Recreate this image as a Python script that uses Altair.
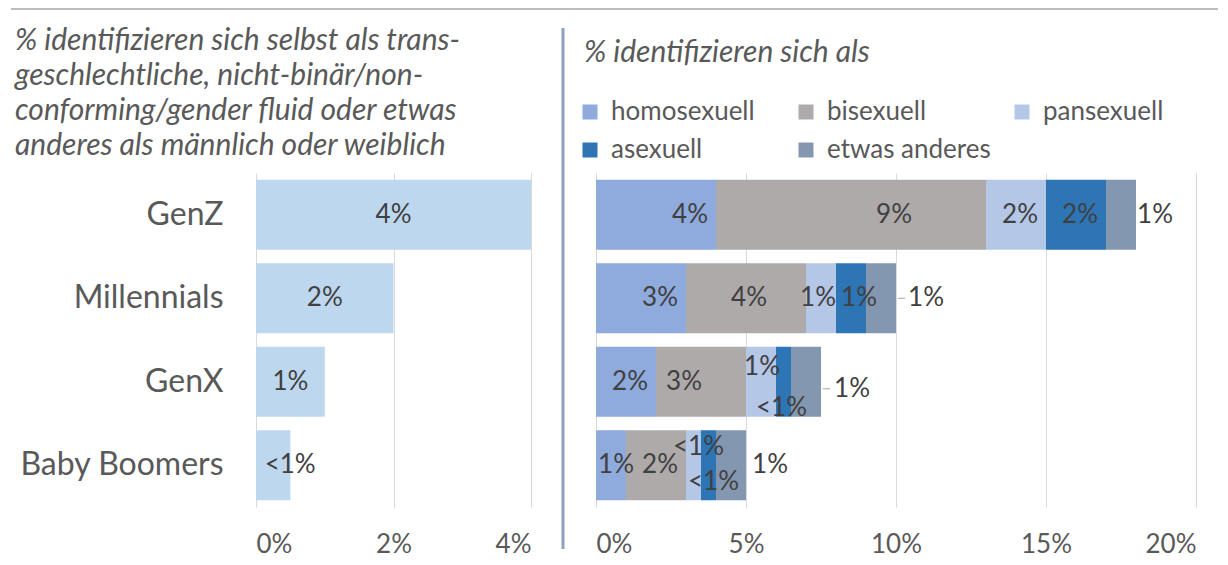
import altair as alt
import pandas as pd

FONT = "Lato"

# ---------------- data ----------------
generations = ["GenZ", "Millennials", "GenX", "Baby Boomers"]
trans_values = [4, 2, 1, 0.5]

categories = ["homosexuell", "bisexuell", "pansexuell", "asexuell", "etwas anderes"]
homosexuell = [4, 3, 2, 1]
bisexuell = [9, 4, 3, 2]
pansexuell = [2, 1, 1, 0.5]
asexuell = [2, 1, 0.5, 0.5]
etwas_anderes = [1, 1, 1, 1]

left_ticks = [0, 2, 4]
right_ticks = [0, 5, 10, 15, 20]

left_title = [
    "% identifizieren sich selbst als trans-",
    "geschlechtliche, nicht-binär/non-",
    "conforming/gender fluid oder etwas",
    "anderes als männlich oder weiblich",
]
right_title = "% identifizieren sich als"

# ---------------- style ----------------
trans_color = "#BDD7EE"
cat_colors = ["#8FAADC", "#AEAAAA", "#B4C7E7", "#2E75B6", "#8497B0"]
TEXT = "#595959"
LABEL = "#404040"
GRID = "#D9D9D9"

LEFT_W, LEFT_MAX = 275, 4
RIGHT_W, RIGHT_MAX = 600, 20
PLOT_H = 334
PAD_IN, PAD_OUT = 0.16, 0.08
STEP = PLOT_H / (len(generations) - PAD_IN + 2 * PAD_OUT)
HALF_BAND = STEP * (1 - PAD_IN) / 2

# pixel nudges of data labels (dx, dy) relative to the segment centre
left_nudge = {"Baby Boomers": (17, 0)}
right_nudge = {
    ("GenZ", "homosexuell"): (34, 0), ("GenZ", "bisexuell"): (43, 0),
    ("GenZ", "pansexuell"): (4, 0), ("GenZ", "asexuell"): (4, 0),
    ("GenZ", "etwas anderes"): (34, 0),
    ("Millennials", "homosexuell"): (19, 0), ("Millennials", "bisexuell"): (3, 0),
    ("Millennials", "pansexuell"): (-3, 0), ("Millennials", "asexuell"): (8, 0),
    ("Millennials", "etwas anderes"): (45, 0),
    ("GenX", "homosexuell"): (4, 0), ("GenX", "bisexuell"): (-17, 0),
    ("GenX", "pansexuell"): (1, -15), ("GenX", "asexuell"): (-2, 26),
    ("GenX", "etwas anderes"): (46, 7),
    ("Baby Boomers", "homosexuell"): (5, 0), ("Baby Boomers", "bisexuell"): (4, 0),
    ("Baby Boomers", "pansexuell"): (5, -18), ("Baby Boomers", "asexuell"): (5, 17),
    ("Baby Boomers", "etwas anderes"): (39, 0),
}
leader_dy = {"Millennials": 0, "GenX": 7}


def pct_label(v):
    return "<1%" if v < 1 else f"{v:g}%"


# ---------------- tables ----------------
lpx = LEFT_W / LEFT_MAX
left_df = pd.DataFrame({
    "gen": generations,
    "value": trans_values,
    "lx": [v / 2 + left_nudge.get(g, (0, 0))[0] / lpx for g, v in zip(generations, trans_values)],
    "label": [pct_label(v) for v in trans_values],
})

rpx = RIGHT_W / RIGHT_MAX
series = [homosexuell, bisexuell, pansexuell, asexuell, etwas_anderes]
rows = []
for gi, g in enumerate(generations):
    cum = 0
    for ci, c in enumerate(categories):
        v = series[ci][gi]
        dx, dy = right_nudge.get((g, c), (0, 0))
        rows.append({"gen": g, "cat": c, "value": v, "start": cum, "end": cum + v,
                     "lx": cum + v / 2 + dx / rpx, "label": pct_label(v),
                     "dy": dy + HALF_BAND})
        cum += v
right_df = pd.DataFrame(rows)

totals = right_df.groupby("gen")["end"].max()
leader_df = pd.DataFrame({
    "gen": list(leader_dy.keys()),
    "x1": [totals[g] + 0.06 for g in leader_dy],
    "x2": [totals[g] + 0.3 for g in leader_dy],
    "dy": [d + HALF_BAND for d in leader_dy.values()],
})

y_scale = alt.Scale(paddingInner=PAD_IN, paddingOuter=PAD_OUT)

# ---------------- left panel ----------------
y_left = alt.Y("gen:N", sort=generations, scale=y_scale,
               axis=alt.Axis(title=None, labelFontSize=32, labelColor=TEXT, labelFont=FONT,
                             labelPadding=33, labelLimit=400, domain=False, ticks=False))
x_left = alt.X("value:Q", scale=alt.Scale(domain=[0, LEFT_MAX], nice=False),
               axis=alt.Axis(values=left_ticks, labelExpr="datum.value + '%'", title=None,
                             grid=True, gridColor=GRID, domain=False, ticks=False,
                             labelFontSize=26, labelColor=TEXT, labelFont=FONT, labelPadding=24))

bars_l = alt.Chart(left_df).mark_bar(color=trans_color).encode(y=y_left, x=x_left)
text_l = alt.Chart(left_df).mark_text(fontSize=26, color=LABEL, font=FONT).encode(
    y=alt.Y("gen:N", sort=generations),
    x=alt.X("lx:Q"),
    text="label:N",
)
top_rule = alt.Chart(pd.DataFrame({"k": [0]})).mark_rule(color="#A6A6A6", strokeWidth=1.5).encode(
    x=alt.value(-245), x2=alt.value(962), y=alt.value(-164)
)

left = alt.layer(bars_l, text_l, top_rule).properties(
    width=LEFT_W, height=PLOT_H,
    title=alt.TitleParams(text=left_title, anchor="start", frame="group", dx=-241,
                          fontSize=30, font=FONT, fontStyle="italic", fontWeight="normal",
                          color=TEXT, lineHeight=35, offset=-153),
)

# ---------------- right panel ----------------
y_right = alt.Y("gen:N", sort=generations, scale=y_scale, axis=None)
x_right = alt.X("start:Q", scale=alt.Scale(domain=[0, RIGHT_MAX], nice=False),
                axis=alt.Axis(values=right_ticks, labelExpr="datum.value + '%'", title=None,
                              grid=True, gridColor=GRID, domain=False, ticks=False,
                              labelFontSize=26, labelColor=TEXT, labelFont=FONT, labelPadding=24))

bars_r = alt.Chart(right_df).mark_bar().encode(
    y=y_right,
    x=x_right,
    x2="end:Q",
    color=alt.Color("cat:N", sort=categories,
                    scale=alt.Scale(domain=categories, range=cat_colors),
                    legend=alt.Legend(title=None, orient="none", legendX=-19, legendY=-74,
                                      direction="horizontal", columns=3, gridAlign="all",
                                      columnPadding=18, rowPadding=12, labelFontSize=26,
                                      labelColor=TEXT, labelFont=FONT, labelLimit=400,
                                      symbolType="square", symbolSize=225,
                                      symbolStrokeWidth=0, labelOffset=8, padding=0)),
    order=alt.Order("start:Q"),
)
text_r = alt.Chart(right_df).mark_text(fontSize=26, color=LABEL, font=FONT).encode(
    y=alt.Y("gen:N", sort=generations),
    yOffset=alt.YOffset("dy:Q", scale=None),
    x=alt.X("lx:Q"),
    text="label:N",
)
leaders = alt.Chart(leader_df).mark_rule(color="#A6A6A6", strokeWidth=1).encode(
    y=alt.Y("gen:N", sort=generations),
    yOffset=alt.YOffset("dy:Q", scale=None),
    x="x1:Q",
    x2="x2:Q",
)
separator = alt.Chart(pd.DataFrame({"k": [0]})).mark_rule(color="#8EA0BE", strokeWidth=3).encode(
    x=alt.value(-33), y=alt.value(-145), y2=alt.value(376)
)

right = alt.layer(bars_r, text_r, leaders, separator).properties(
    width=RIGHT_W, height=PLOT_H,
    title=alt.TitleParams(text=right_title, anchor="start", frame="group", dx=-12,
                          fontSize=30, font=FONT, fontStyle="italic", fontWeight="normal",
                          color=TEXT, offset=-41),
)

chart = alt.hconcat(left, right, spacing=65, bounds="flush").resolve_legend(
    color="independent"
).properties(
    padding={"left": 2, "top": 0, "right": 0, "bottom": 0}
).configure_view(stroke=None)

chart.save("out.html", embed_options={"renderer": "svg", "actions": False})
